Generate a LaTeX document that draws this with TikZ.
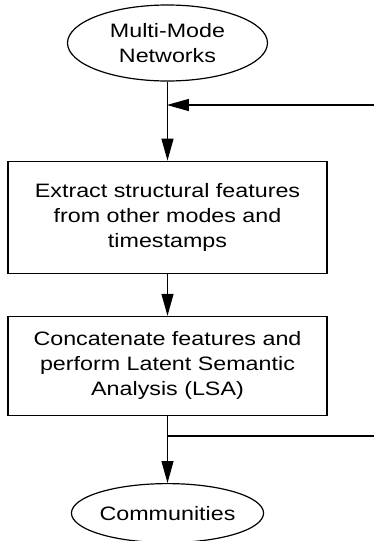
\documentclass[tikz,border=0pt]{standalone}
\usepackage{fontspec}
\setmainfont{Liberation Sans}[FakeStretch=1.2]
\usetikzlibrary{positioning, arrows.meta, shapes.geometric}

\begin{document}
\begin{tikzpicture}[
        block/.style={draw, rectangle, minimum width=159.5pt, align=center},
        term/.style={draw, ellipse, align=center, inner sep=0pt},
        node distance=21pt, line width=0.6pt,
        >={Triangle[length=11pt, width=6pt]},
        font=\fontsize{9.7}{12.5}\selectfont]

        \useasboundingbox (0,0) rectangle (187pt,-270.5pt);

        % Nodes
        \node (net) [term, minimum width=100pt, minimum height=38pt] at (83.75pt,-21.5pt) {Multi-Mode\\Networks};
        \node (extract) [block, minimum height=56pt, below=39.5pt of net] {Extract structural features\\from other modes and\\timestamps};
        \node (lsa) [block, minimum height=49.5pt, below=of extract] {Concatenate features and\\perform Latent Semantic\\Analysis (LSA)};
        \node (comm) [term, minimum width=94.5pt, minimum height=29.5pt, below=33.5pt of lsa] {Communities};

        % Connections
        \draw[->] (net) -- (extract);
        \draw[->] (extract) -- (lsa);
        \draw[->] (lsa) -- (comm);

        % Loop back
        \coordinate (fbin) at (187pt,-52.5pt);
        \coordinate (fbout) at (187pt,-218pt);
        \draw[->, shorten >=-0.3pt] (fbin) -- (fbin -| net.south);
        \draw (fbout) -- (fbout -| lsa.south);

\end{tikzpicture}
\end{document}
